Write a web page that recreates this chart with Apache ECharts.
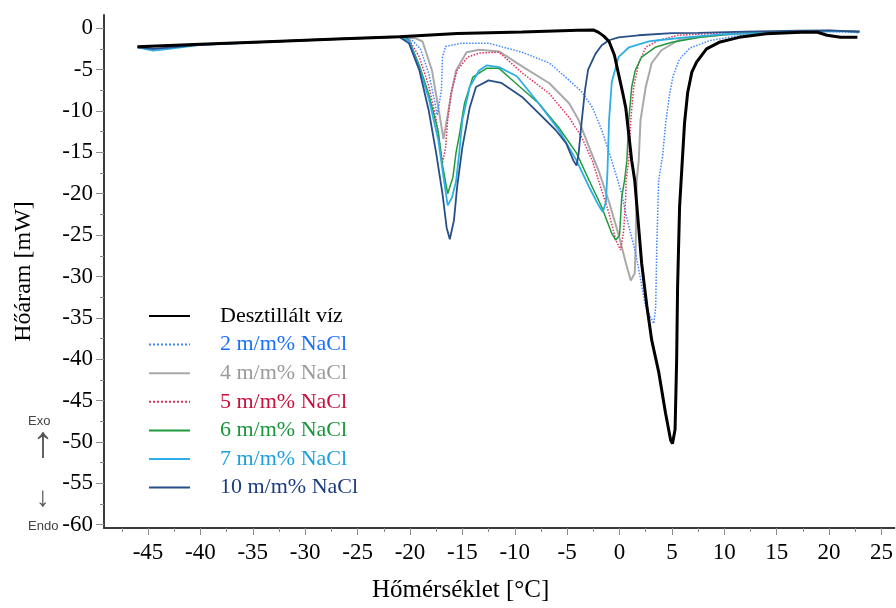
<!DOCTYPE html>
<html>
<head>
<meta charset="utf-8">
<script src="https://cdn.jsdelivr.net/npm/echarts@6/dist/echarts.min.js"></script>
<style>
html,body{margin:0;padding:0;background:#fff;}
#c{width:896px;height:608px;}
</style>
</head>
<body>
<div id="c"></div>
<script>
// Series names
const seriesNames = ['Desztillált víz', '2 m/m% NaCl', '4 m/m% NaCl', '5 m/m% NaCl', '6 m/m% NaCl', '7 m/m% NaCl', '10 m/m% NaCl'];

// [temperature °C, heat flow mW]
const water = [[-46,-2.25],[-40,-1.95],[-33,-1.6],[-27,-1.3],[-21,-1.03],[-15.5,-0.65],[-9.3,-0.45],[-4,-0.24],[-2.5,-0.2],[-2.0,-0.5],[-1.5,-0.95],[-1.0,-1.6],[-0.5,-3.2],[-0.08,-5.6],[0.3,-7.8],[0.59,-9.6],[0.9,-13.0],[1.16,-16.0],[1.45,-18.4],[2.11,-28.4],[2.6,-33.5],[3.07,-37.7],[3.73,-41.5],[4.4,-46.6],[4.88,-49.8],[5.05,-50.2],[5.3,-48.5],[5.45,-40.1],[5.54,-31.3],[5.73,-21.6],[5.92,-17.5],[6.2,-11.5],[6.5,-7.8],[6.9,-5.3],[7.35,-4.1],[8.3,-2.5],[9.5,-1.7],[11.4,-1.1],[14.0,-0.67],[17.3,-0.48],[18.9,-0.48],[19.8,-0.85],[21.1,-1.1],[22.7,-1.1]];
const nacl2 = [[-46,-2.3],[-44.5,-2.6],[-43,-2.45],[-40,-1.95],[-33,-1.6],[-27,-1.3],[-21,-1.0],[-20,-1.2],[-19,-2.5],[-18.2,-5.5],[-17.7,-8.5],[-17.4,-10.5],[-17.0,-7.5],[-16.9,-3.5],[-16.6,-2.2],[-15,-1.8],[-12.5,-1.81],[-9.3,-2.9],[-6.7,-4.2],[-4.8,-6.3],[-3.6,-7.7],[-2.6,-9.55],[-1.7,-12.3],[-0.74,-16.0],[0.21,-20.0],[0.59,-22.4],[1.16,-25.3],[1.54,-27.2],[2.5,-33.7],[3.26,-35.7],[3.45,-33.7],[3.55,-26.5],[3.73,-18.4],[4.1,-15.5],[4.4,-11.5],[4.75,-8.2],[5.1,-5.8],[5.7,-3.8],[6.7,-2.4],[8.6,-1.5],[10.9,-1.0],[14,-0.6],[20,-0.4],[22.9,-0.55]];
const nacl4 = [[-46,-2.25],[-40,-1.95],[-33,-1.6],[-27,-1.3],[-21,-1.0],[-19.5,-1.2],[-18.8,-1.6],[-17.9,-5.1],[-17.2,-10.3],[-16.8,-13.4],[-16.4,-10.5],[-16.0,-7.5],[-15.6,-5.1],[-14.6,-2.9],[-13.4,-2.6],[-11.5,-2.8],[-9.3,-4.6],[-6.7,-6.65],[-4.8,-9.1],[-3.9,-11.1],[-2.9,-14.4],[-2.0,-17.2],[-1.0,-21.0],[-0.08,-25.0],[0.59,-28.3],[1.07,-30.5],[1.45,-29.6],[1.54,-26.5],[1.64,-18.4],[1.83,-16.0],[2.0,-11.1],[2.5,-7.1],[3.07,-4.2],[4.0,-2.66],[5.6,-1.45],[7.3,-1.1],[10,-0.8],[15,-0.45],[20,-0.3],[22.9,-0.35]];
const nacl5 = [[-46,-2.25],[-40,-1.95],[-33,-1.6],[-27,-1.3],[-21,-1.03],[-20.1,-1.3],[-19.1,-3.5],[-18.2,-7.0],[-17.5,-11.0],[-17.1,-14.5],[-16.9,-16.3],[-16.6,-14.4],[-16.4,-11.1],[-16.1,-7.9],[-15.5,-5.1],[-14.5,-3.5],[-13.4,-3.0],[-11.5,-2.9],[-9.3,-5.4],[-6.7,-7.9],[-4.8,-10.8],[-3.6,-13.2],[-2.6,-16.0],[-2.0,-18.4],[-1.0,-22.4],[-0.36,-25.6],[0.1,-26.8],[0.4,-24.4],[0.59,-20.4],[0.62,-18.4],[0.88,-16.0],[1.07,-11.1],[1.35,-7.1],[1.83,-4.2],[2.5,-2.3],[3.73,-1.45],[5.6,-0.85],[10,-0.55],[15,-0.4],[20,-0.3],[22.9,-0.35]];
const nacl6 = [[-46,-2.25],[-40,-1.95],[-33,-1.6],[-27,-1.3],[-21,-1.03],[-20.1,-1.4],[-19.1,-4.5],[-18.2,-8.0],[-17.3,-12.5],[-16.9,-16.5],[-16.4,-20.0],[-15.9,-18.0],[-15.6,-15.0],[-15.3,-13.0],[-14.8,-9.1],[-14.0,-5.9],[-12.7,-4.85],[-11.5,-4.85],[-9.9,-6.65],[-7.7,-9.1],[-5.8,-12.0],[-4.1,-15.1],[-2.9,-18.4],[-1.7,-21.6],[-0.74,-24.8],[-0.36,-25.6],[0.0,-25.0],[0.21,-20.4],[0.5,-18.2],[0.7,-16.0],[0.88,-11.1],[1.16,-7.1],[1.5,-5.1],[2.1,-3.5],[3.4,-2.3],[5.0,-1.7],[7.7,-1.1],[10.9,-0.67],[15,-0.45],[20,-0.3],[22.9,-0.4]];
const nacl7 = [[-46,-2.3],[-44.5,-2.7],[-43,-2.5],[-40,-2.0],[-33,-1.6],[-27,-1.3],[-21,-1.05],[-20.1,-1.5],[-19.1,-4.8],[-18.2,-8.5],[-17.3,-13.5],[-16.8,-18.0],[-16.4,-21.4],[-16.0,-20.5],[-15.6,-18.5],[-15.3,-15.1],[-15.0,-11.1],[-14.3,-7.1],[-13.4,-5.1],[-12.7,-4.5],[-11.5,-4.7],[-9.8,-5.8],[-7.7,-9.1],[-5.8,-12.3],[-4.1,-16.0],[-2.9,-19.2],[-2.0,-21.4],[-1.6,-22.2],[-1.3,-21.0],[-1.15,-17.2],[-1.0,-11.1],[-0.74,-6.5],[-0.1,-3.5],[0.9,-2.3],[2.8,-1.6],[3.7,-1.45],[6.3,-1.1],[10,-0.7],[15,-0.5],[20,-0.35],[22.9,-0.4]];
const nacl10 = [[-46,-2.3],[-44.5,-2.5],[-40,-2.0],[-33,-1.6],[-27,-1.3],[-21,-1.05],[-20.1,-1.8],[-19.1,-5.1],[-18.2,-10.0],[-17.5,-15.1],[-16.9,-20.0],[-16.5,-24.1],[-16.2,-25.5],[-15.8,-23.2],[-15.5,-19.2],[-15.0,-14.4],[-14.3,-9.6],[-13.7,-7.1],[-12.5,-6.3],[-11.3,-6.6],[-9.3,-8.3],[-7.7,-10.3],[-6.1,-12.3],[-5.1,-13.9],[-4.4,-16.0],[-4.1,-16.6],[-3.9,-15.1],[-3.6,-11.1],[-3.3,-7.5],[-3.0,-5.0],[-2.3,-3.1],[-1.7,-2.06],[-1.0,-1.45],[-0.1,-1.1],[1.8,-0.85],[5.0,-0.6],[7.5,-0.55],[12,-0.4],[17,-0.3],[20,-0.25],[22.9,-0.45]];

// Tick values
const xMajorTicks = [-45,-40,-35,-30,-25,-20,-15,-10,-5,0,5,10,15,20,25];
const xMinorTicks = [-47.5,-42.5,-37.5,-32.5,-27.5,-22.5,-17.5,-12.5,-7.5,-2.5,2.5,7.5,12.5,17.5,22.5];
const yMajorTicks = [0,-5,-10,-15,-20,-25,-30,-35,-40,-45,-50,-55,-60];
const yMinorTicks = [-2.5,-7.5,-12.5,-17.5,-22.5,-27.5,-32.5,-37.5,-42.5,-47.5,-52.5,-57.5];

const seriesData = [water, nacl2, nacl4, nacl5, nacl6, nacl7, nacl10];
const lineColors = ['#000000', '#3f86ff', '#a9a9a9', '#e0305a', '#1f9a3c', '#2eaee6', '#284f88'];
const textColors = ['#000000', '#1a6fff', '#9a9a9a', '#c8103c', '#17963a', '#1aa0e0', '#1c3c7c'];
const lineTypes = ['solid', 'dotted', 'solid', 'dotted', 'solid', 'solid', 'solid'];
const lineWidths = [3, 1.5, 2, 1.5, 1.5, 1.8, 1.8];

const XMIN = -49.2, XMAX = 26.23, YMIN = -60.4, YMAX = 1.6;
const serif = '"Liberation Serif", "Times New Roman", serif';

const chart = echarts.init(document.getElementById('c'), null, {renderer: 'canvas'});

const drawOrder = [2, 1, 3, 4, 5, 6, 0];
const series = drawOrder.map(i => ({
  name: seriesNames[i],
  type: 'line',
  xAxisIndex: 0,
  yAxisIndex: 0,
  data: seriesData[i],
  symbol: 'none',
  showSymbol: false,
  silent: true,
  z: i === 0 ? 5 : 3,
  lineStyle: {color: lineColors[i], width: lineWidths[i], type: lineTypes[i]},
  itemStyle: {color: lineColors[i]}
}));

chart.setOption({
  animation: false,
  backgroundColor: '#ffffff',
  grid: {left: 104, top: 15, width: 792, height: 513, containLabel: false},
  legend: {
    orient: 'vertical',
    left: 148,
    top: 305,
    padding: 0,
    itemWidth: 41,
    itemHeight: 12,
    itemGap: 6.6,
    selectedMode: false,
    itemStyle: {opacity: 0},
    textStyle: {fontFamily: serif, fontSize: 22, lineHeight: 22, padding: [0, 0, 0, 25]},
    data: seriesNames.map((n, i) => ({name: n, textStyle: {color: textColors[i]}}))
  },
  xAxis: [
    {
      type: 'value', min: XMIN, max: XMAX, position: 'bottom',
      axisLine: {show: true, onZero: false, lineStyle: {color: '#3a3a3a', width: 2}},
      axisTick: {show: true, customValues: xMajorTicks, length: 7, lineStyle: {color: '#8a8a8a', width: 1}},
      axisLabel: {show: true, customValues: xMajorTicks, margin: 13, color: '#000', fontFamily: serif, fontSize: 23},
      splitLine: {show: false}
    },
    {
      type: 'value', min: XMIN, max: XMAX, position: 'bottom', gridIndex: 0,
      axisLine: {show: false, onZero: false},
      axisTick: {show: true, customValues: xMinorTicks, length: 4, lineStyle: {color: '#8a8a8a', width: 1}},
      axisLabel: {show: false},
      splitLine: {show: false}
    }
  ],
  yAxis: [
    {
      type: 'value', min: YMIN, max: YMAX, position: 'left',
      name: 'Hőáram [mW]', nameLocation: 'middle', nameGap: 68, nameRotate: 90,
      nameTextStyle: {fontFamily: serif, fontSize: 24, color: '#000'},
      axisLine: {show: true, onZero: false, lineStyle: {color: '#3a3a3a', width: 2}},
      axisTick: {show: true, customValues: yMajorTicks, length: 8, lineStyle: {color: '#8a8a8a', width: 1}},
      axisLabel: {show: true, customValues: yMajorTicks, margin: 11, color: '#000', fontFamily: serif, fontSize: 23},
      splitLine: {show: false}
    },
    {
      type: 'value', min: YMIN, max: YMAX, position: 'left', gridIndex: 0,
      axisLine: {show: false, onZero: false},
      axisTick: {show: true, customValues: yMinorTicks, length: 4, lineStyle: {color: '#8a8a8a', width: 1}},
      axisLabel: {show: false},
      splitLine: {show: false}
    }
  ],
  graphic: [
    {type: 'text', left: 372, top: 578, style: {text: 'Hőmérséklet [°C]', font: '25px ' + serif, fill: '#000'}},
    {type: 'text', left: 28, top: 415, style: {text: 'Exo', font: '13px "Liberation Sans", Arial, sans-serif', fill: '#444'}},
    {type: 'text', left: 32, top: 423, style: {text: '↑', font: '44px "Liberation Sans", "DejaVu Sans", sans-serif', fill: '#555'}},
    {type: 'text', left: 36, top: 484, style: {text: '↓', font: '28px "Liberation Sans", "DejaVu Sans", sans-serif', fill: '#555'}},
    {type: 'text', left: 28, top: 520, style: {text: 'Endo', font: '13px "Liberation Sans", Arial, sans-serif', fill: '#444'}}
  ],
  series: series
});
</script>
</body>
</html>
